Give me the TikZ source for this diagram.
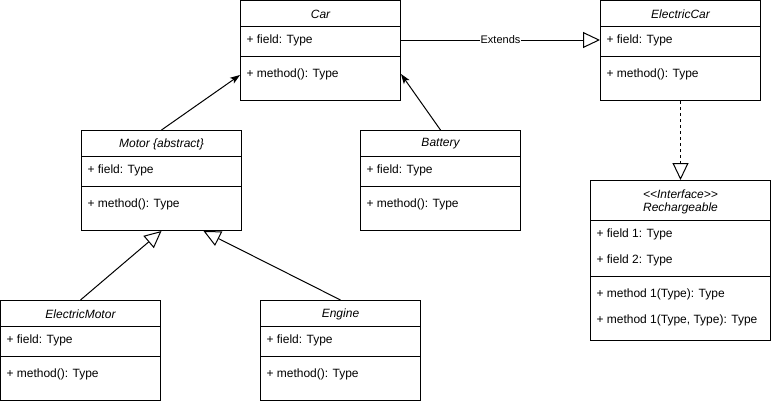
\documentclass[tikz,border=0pt]{standalone}
\usepackage{fontspec}
\setmainfont{Liberation Sans}
\usetikzlibrary{arrows.meta}
\tikzset{
  classbox/.style={draw,anchor=north west,inner sep=0pt,minimum width=160pt,minimum height=100pt},
  ctitle/.style={font=\fontsize{12}{14}\selectfont\itshape,inner sep=0pt,align=center,yshift=-1pt},
  member/.style={font=\fontsize{12}{14}\selectfont,inner sep=0pt,anchor=west,yshift=-1.5pt},
  inherit/.style={-{Triangle[open,length=17pt,width=16pt]}},
  assoc/.style={-{Stealth[length=10pt,width=7pt,inset=2.5pt]}},
  realize/.style={inherit,dash pattern=on 3pt off 3pt}}
\begin{document}
\begin{tikzpicture}[x=1pt,y=-1pt,line width=1pt]
\useasboundingbox (0,0) rectangle (771,402);

% Car
\node[classbox] (car) at (240,0) {};
\draw ([yshift=-26pt]car.north west) -- ([yshift=-26pt]car.north east);
\draw ([yshift=-56pt]car.north west) -- ([yshift=-56pt]car.north east);
\node[ctitle] (cart) at ([yshift=-13pt]car.north) {Car};
\node[member] (carf) at ([xshift=6pt,yshift=-39pt]car.north west) {+ field: Type};
\node[member] (carm) at ([xshift=6pt,yshift=-73pt]car.north west) {+ method(): Type};

% ElectricCar
\node[classbox] (ecar) at (600,0) {};
\draw ([yshift=-26pt]ecar.north west) -- ([yshift=-26pt]ecar.north east);
\draw ([yshift=-56pt]ecar.north west) -- ([yshift=-56pt]ecar.north east);
\node[ctitle] (ecart) at ([yshift=-13pt]ecar.north) {ElectricCar};
\node[member] (ecarf) at ([xshift=6pt,yshift=-39pt]ecar.north west) {+ field: Type};
\node[member] (ecarm) at ([xshift=6pt,yshift=-73pt]ecar.north west) {+ method(): Type};

% Motor
\node[classbox] (motor) at (81,130) {};
\draw ([yshift=-26pt]motor.north west) -- ([yshift=-26pt]motor.north east);
\draw ([yshift=-56pt]motor.north west) -- ([yshift=-56pt]motor.north east);
\node[ctitle] (motort) at ([yshift=-13pt]motor.north) {Motor \{abstract\}};
\node[member] (motorf) at ([xshift=6pt,yshift=-39pt]motor.north west) {+ field: Type};
\node[member] (motorm) at ([xshift=6pt,yshift=-73pt]motor.north west) {+ method(): Type};

% Battery
\node[classbox] (batt) at (360,130) {};
\draw ([yshift=-26pt]batt.north west) -- ([yshift=-26pt]batt.north east);
\draw ([yshift=-56pt]batt.north west) -- ([yshift=-56pt]batt.north east);
\node[ctitle] (battt) at ([yshift=-13pt]batt.north) {Battery};
\node[member] (battf) at ([xshift=6pt,yshift=-39pt]batt.north west) {+ field: Type};
\node[member] (battm) at ([xshift=6pt,yshift=-73pt]batt.north west) {+ method(): Type};

% ElectricMotor
\node[classbox] (emot) at (0,300) {};
\draw ([yshift=-26pt]emot.north west) -- ([yshift=-26pt]emot.north east);
\draw ([yshift=-56pt]emot.north west) -- ([yshift=-56pt]emot.north east);
\node[ctitle] (emott) at ([yshift=-13pt]emot.north) {ElectricMotor};
\node[member] (emotf) at ([xshift=6pt,yshift=-39pt]emot.north west) {+ field: Type};
\node[member] (emotm) at ([xshift=6pt,yshift=-73pt]emot.north west) {+ method(): Type};

% Engine
\node[classbox] (eng) at (260,300) {};
\draw ([yshift=-26pt]eng.north west) -- ([yshift=-26pt]eng.north east);
\draw ([yshift=-56pt]eng.north west) -- ([yshift=-56pt]eng.north east);
\node[ctitle] (engt) at ([yshift=-13pt]eng.north) {Engine};
\node[member] (engf) at ([xshift=6pt,yshift=-39pt]eng.north west) {+ field: Type};
\node[member] (engm) at ([xshift=6pt,yshift=-73pt]eng.north west) {+ method(): Type};

% Rechargeable interface
\node[classbox,minimum width=180pt,minimum height=160pt] (rech) at (590,180) {};
\draw ([yshift=-40pt]rech.north west) -- ([yshift=-40pt]rech.north east);
\draw ([yshift=-96pt]rech.north west) -- ([yshift=-96pt]rech.north east);
\node[ctitle] (rechs) at ([yshift=-13pt]rech.north) {{<}{<}Interface{>}{>}};
\node[ctitle] (recht) at ([yshift=-27pt]rech.north) {Rechargeable};
\node[member] (rechfa) at ([xshift=6pt,yshift=-53pt]rech.north west) {+ field 1: Type};
\node[member] (rechfb) at ([xshift=6pt,yshift=-79pt]rech.north west) {+ field 2: Type};
\node[member] (rechma) at ([xshift=6pt,yshift=-113pt]rech.north west) {+ method 1(Type): Type};
\node[member] (rechmb) at ([xshift=6pt,yshift=-139pt]rech.north west) {+ method 1(Type, Type): Type};

% connectors
\draw[assoc] (motor.north) -- ([yshift=-75pt]car.north west);
\draw[assoc] (batt.north) -- ([yshift=-74pt]car.north east);
\draw[inherit] ([yshift=-40pt]car.north east) -- node[fill=white,inner sep=1pt,font=\fontsize{11}{13}\selectfont] (ext) {Extends} ([yshift=-40pt]ecar.north west);
\draw[realize] (ecar.south) -- (rech.north);
\draw[inherit] (emot.north) -- (motor.south);
\draw[inherit] (eng.north) -- ([xshift=42pt]motor.south);
\end{tikzpicture}
\end{document}
